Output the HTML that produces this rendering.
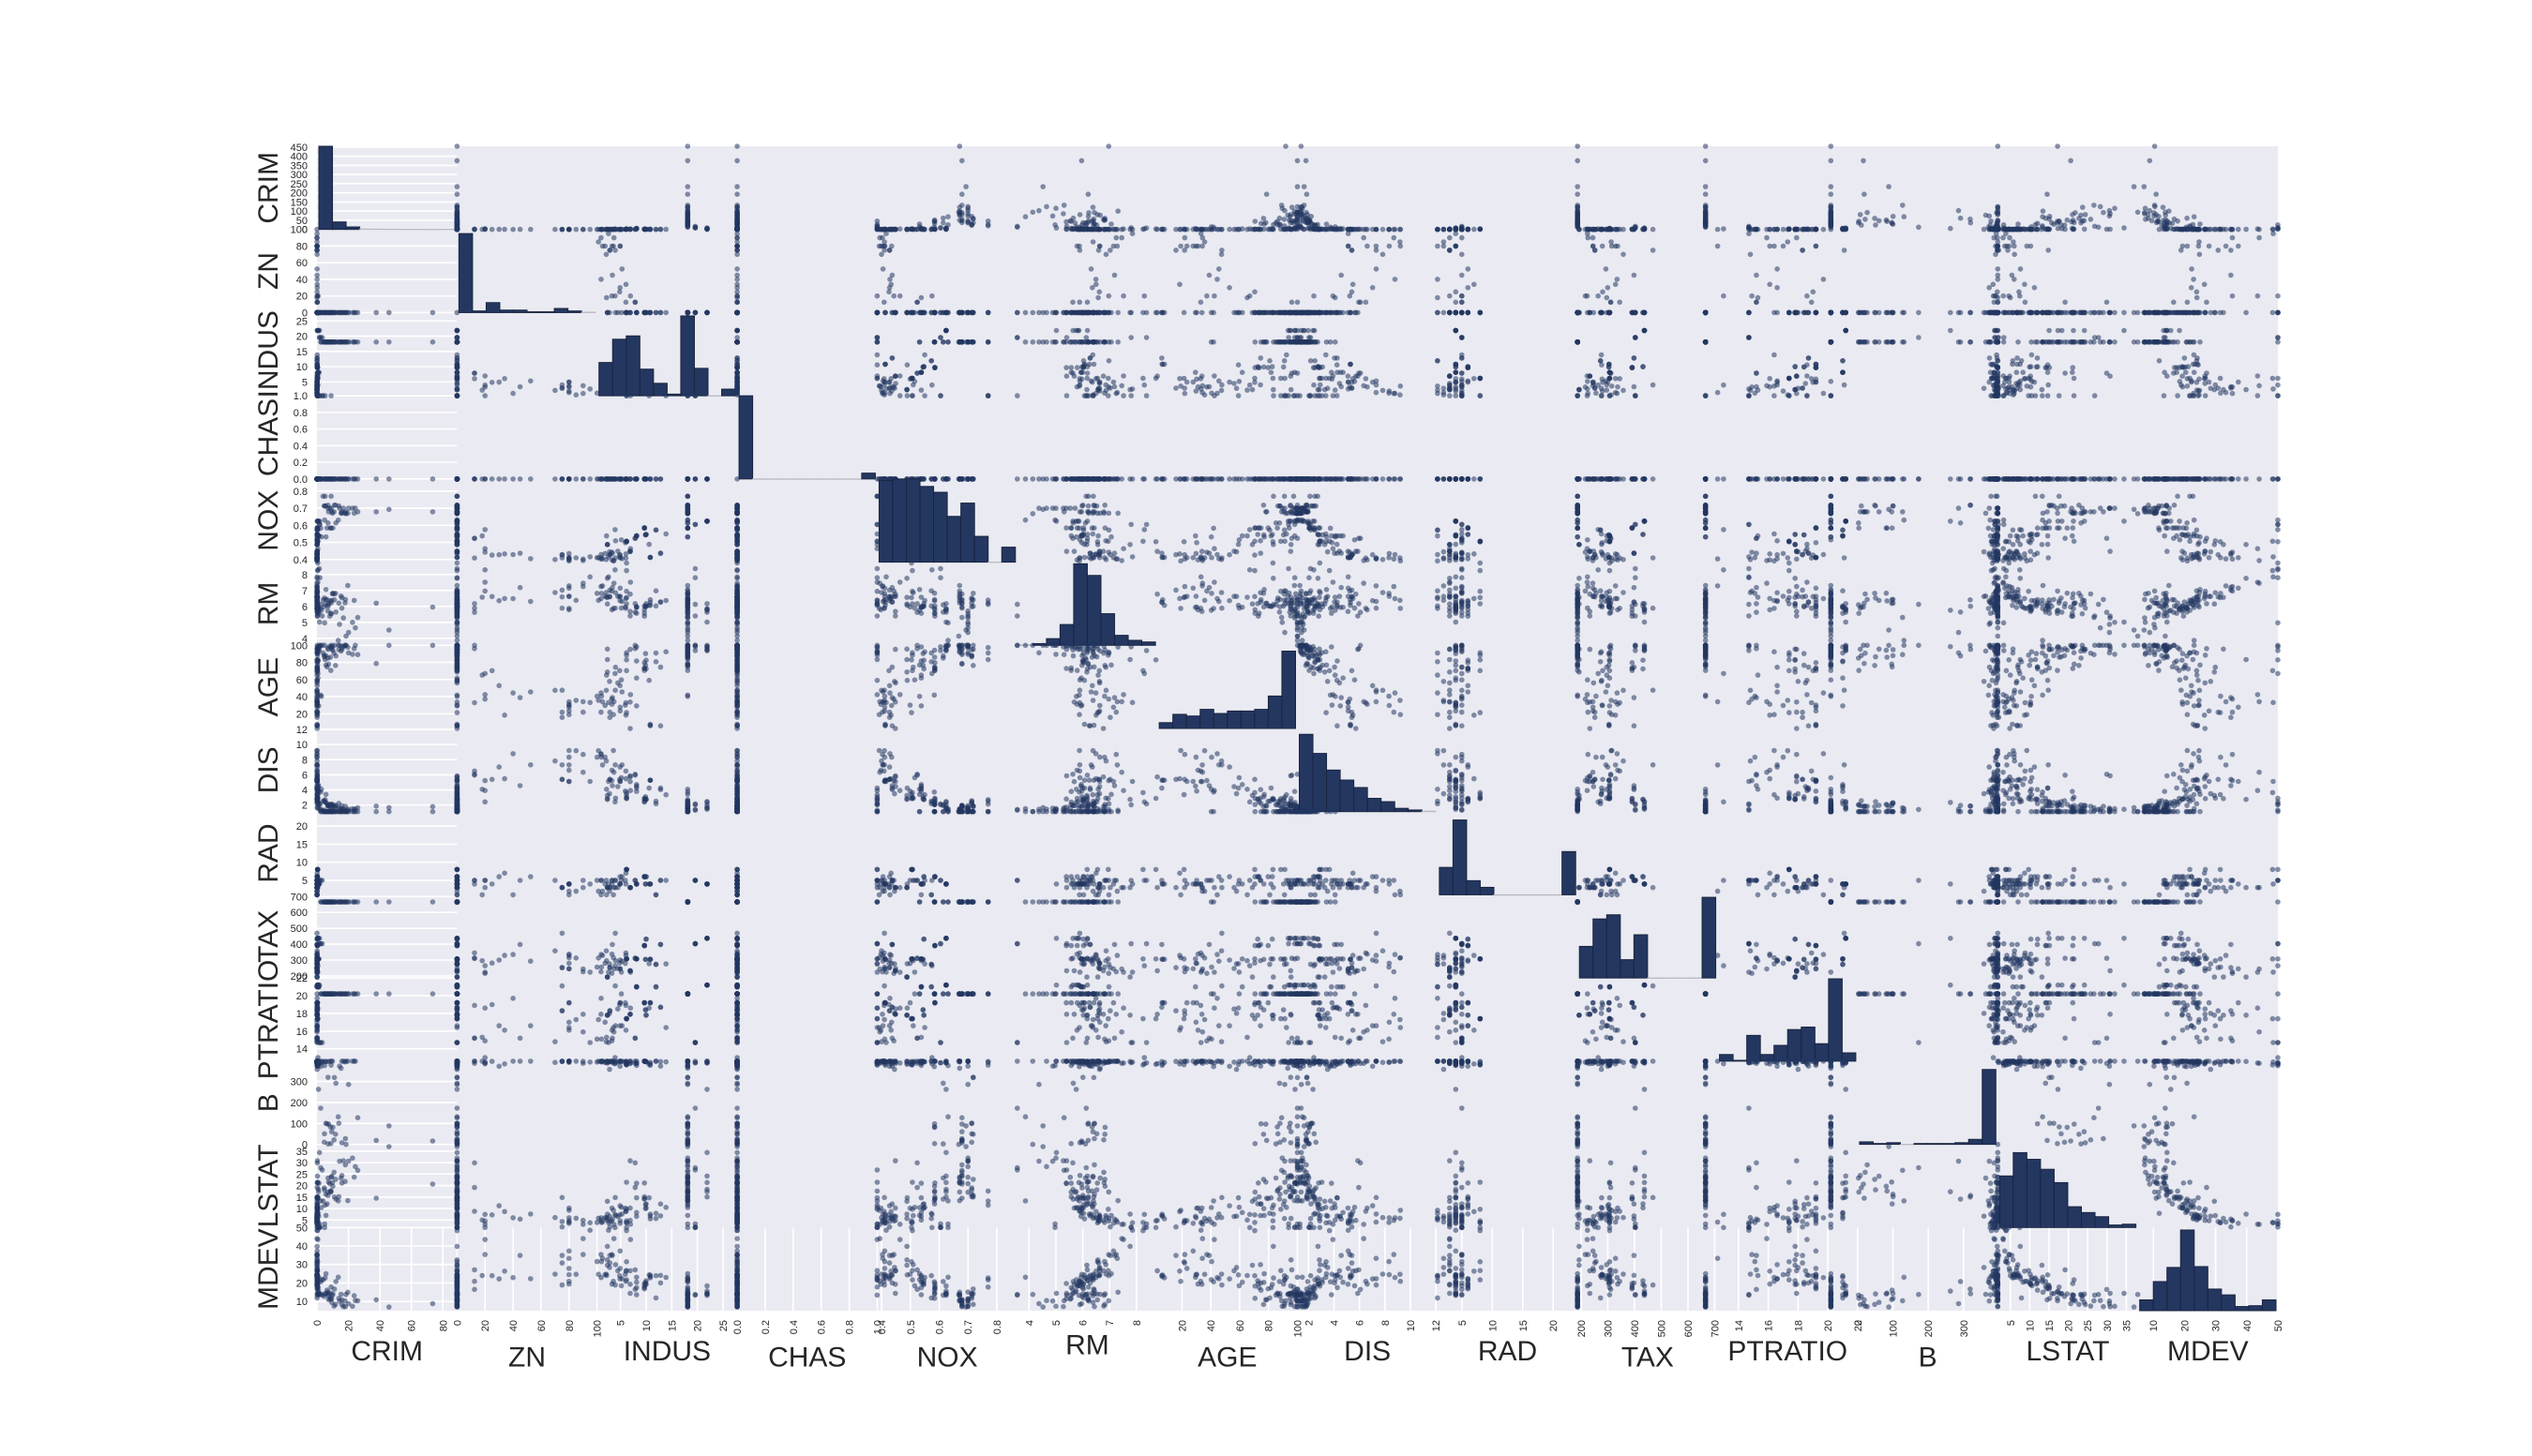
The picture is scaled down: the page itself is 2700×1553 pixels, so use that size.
<!DOCTYPE html>
<html><head><meta charset="utf-8"><title>Boston scatter matrix</title>
<style>
html,body{margin:0;padding:0;background:#fff;}
svg{display:block;font-family:"Liberation Sans",sans-serif;}
</style></head>
<body>
<svg id="chart" width="2700" height="1553" viewBox="0 0 2700 1553" xmlns="http://www.w3.org/2000/svg">
<rect x="0" y="0" width="2700" height="1553" fill="#ffffff"/>
<g id="cells"></g>
<g id="labels"></g>
</svg>
<script>
const varNames = ["CRIM","ZN","INDUS","CHAS","NOX","RM","AGE","DIS","RAD","TAX","PTRATIO","B","LSTAT","MDEV"];
const varMin = [0,0,0.46,0,0.385,3.56,2.9,1.13,1,187,12.6,0.32,1.73,5];
const varMax = [89,100,27.74,1,0.871,8.78,100,12.13,24,711,22,396.9,37.97,50];
const histCrim = [1.0,0.09,0.03,0.005,0.004,0.003,0.002,0.002,0.001,0.002];
const histZn = [0.95,0.02,0.12,0.03,0.03,0.01,0.01,0.05,0.02,0.005];
const histIndus = [0.40,0.68,0.72,0.32,0.15,0.02,0.96,0.33,0,0.08];
const histChas = [1.0,0,0,0,0,0,0,0,0,0.07];
const histNox = [0.98,1.0,1.0,0.91,0.84,0.55,0.71,0.31,0,0.18];
const histRm = [0.005,0.02,0.08,0.25,0.98,0.84,0.38,0.12,0.06,0.04];
const histAge = [0.07,0.17,0.15,0.23,0.18,0.21,0.21,0.23,0.39,0.93];
const histDis = [0.93,0.70,0.50,0.38,0.29,0.16,0.12,0.04,0.02,0.005];
const histRad = [0.33,0.90,0.17,0.09,0,0,0,0,0,0.52];
const histTax = [0.38,0.71,0.76,0.22,0.52,0,0,0,0,0.97];
const histPtratio = [0.08,0.01,0.31,0.08,0.19,0.38,0.41,0.21,0.99,0.10];
const histB = [0.03,0.01,0.02,0,0.01,0.01,0.01,0.02,0.06,0.90];
const histLstat = [0.62,0.90,0.82,0.70,0.54,0.25,0.18,0.13,0.03,0.04];
const histMdev = [0.13,0.35,0.52,0.97,0.53,0.26,0.19,0.05,0.06,0.13];
const hists = [histCrim,histZn,histIndus,histChas,histNox,histRm,histAge,histDis,histRad,histTax,histPtratio,histB,histLstat,histMdev];
const crimCountTicks = [0,50,100,150,200,250,300,350,400,450];
const crimCountMax = 455;
const tickVals = [
 [0,20,40,60,80],[0,20,40,60,80,100],[0,5,10,15,20,25],[0,0.2,0.4,0.6,0.8,1.0],
 [0.4,0.5,0.6,0.7,0.8],[4,5,6,7,8],[20,40,60,80,100],[2,4,6,8,10,12],
 [5,10,15,20],[200,300,400,500,600,700],[14,16,18,20,22],[0,100,200,300,400],
 [5,10,15,20,25,30,35],[10,20,30,40,50]];
const tickText = [
 ["0","20","40","60","80"],["0","20","40","60","80","100"],["0","5","10","15","20","25"],["0.0","0.2","0.4","0.6","0.8","1.0"],
 ["0.4","0.5","0.6","0.7","0.8"],["4","5","6","7","8"],["20","40","60","80","100"],["2","4","6","8","10","12"],
 ["5","10","15","20"],["200","300","400","500","600","700"],["14","16","18","20","22"],["0","100","200","300","400"],
 ["5","10","15","20","25","30","35"],["10","20","30","40","50"]];
const rows = `0.00632,18,2.31,0,0.538,6.575,65.2,4.09,1,296,15.3,396.9,4.98,24.0
0.0136,75,4.0,0,0.41,5.888,47.6,7.32,3,469,21.1,396.9,14.8,18.9
0.01311,90,1.22,0,0.403,7.249,21.9,8.70,5,226,17.9,395.93,4.81,35.4
0.02055,85,0.74,0,0.41,6.383,35.7,9.19,2,313,17.3,396.9,5.77,24.7
0.01432,100,1.32,0,0.411,6.816,40.5,8.32,5,256,15.1,392.9,3.95,31.6
0.03548,80,3.64,0,0.392,5.876,19.1,9.22,1,315,16.4,395.18,9.25,20.9
0.01538,90,3.75,0,0.394,7.454,34.2,6.34,3,244,15.9,386.34,3.11,44.0
0.09164,0,10.81,0,0.413,6.065,7.8,5.29,4,305,19.2,390.91,5.52,22.8
0.05735,0,4.49,0,0.449,6.63,56.1,4.44,3,247,18.5,392.3,6.53,26.6
0.08826,0,10.81,0,0.413,6.417,6.6,5.29,4,305,19.2,383.73,6.72,24.2
0.04379,80,3.37,0,0.398,5.787,31.1,6.61,4,337,16.1,396.9,10.24,19.4
0.03705,20,3.33,0,0.4429,6.968,37.2,5.24,5,216,14.9,392.23,4.59,35.4
0.01501,80,2.01,0,0.435,6.635,29.7,8.34,4,280,17.0,390.94,5.99,24.5
0.04011,80,1.52,0,0.404,7.287,34.1,7.31,2,329,12.6,396.9,4.08,33.3
0.12816,12.5,6.07,0,0.409,5.885,33.0,6.50,4,345,18.9,396.9,8.79,20.9
0.06642,0,4.05,0,0.51,6.86,74.4,2.92,5,296,16.6,391.27,6.92,29.9
0.02763,75,2.95,0,0.428,6.595,21.8,5.40,3,252,18.3,395.63,4.32,30.8
0.03359,75,2.95,0,0.428,7.024,15.8,5.40,3,252,18.3,395.62,1.98,34.9
0.10153,0,12.83,0,0.437,6.279,74.5,4.05,5,398,18.7,373.66,11.97,20.0
0.14455,12.5,7.87,0,0.524,6.172,96.1,5.95,5,311,15.2,396.9,19.15,27.1
0.21124,12.5,7.87,0,0.524,5.631,100,6.08,5,311,15.2,386.63,29.93,16.5
0.62976,0,8.14,0,0.538,5.949,61.8,4.71,4,307,21.0,396.9,8.26,20.4
1.05393,0,8.14,0,0.538,5.935,29.3,4.50,4,307,21.0,386.85,6.58,23.1
0.7842,0,8.14,0,0.538,5.99,81.7,4.26,4,307,21.0,386.75,14.67,17.5
1.25179,0,8.14,0,0.538,5.57,98.1,3.80,4,307,21.0,376.57,21.02,13.6
0.17142,0,6.91,0,0.448,5.682,33.8,5.10,3,233,17.9,396.9,10.21,19.3
0.25387,0,6.91,0,0.448,5.399,95.3,5.87,3,233,17.9,396.9,30.81,14.4
0.19539,0,10.81,0,0.413,6.245,6.2,5.29,4,305,19.2,377.17,7.54,23.4
0.12744,0,6.91,0,0.448,6.77,2.9,5.72,3,233,17.9,385.41,4.84,26.6
0.2909,0,21.89,0,0.624,6.174,93.6,1.61,4,437,21.2,388.08,24.16,14.0
1.62864,0,21.89,0,0.624,5.019,100,1.44,4,437,21.2,396.9,34.41,14.4
3.32105,0,19.58,1,0.871,5.403,100,1.32,5,403,14.7,396.9,26.82,13.4
2.37934,0,19.58,0,0.871,6.13,100,1.42,5,403,14.7,172.91,27.8,13.8
1.83377,0,19.58,1,0.605,7.802,98.2,2.04,5,403,14.7,389.61,1.92,50.0
1.51902,0,19.58,1,0.605,8.375,93.9,2.16,5,403,14.7,388.45,3.32,50.0
0.40771,0,6.2,1,0.507,6.164,91.3,3.05,8,307,17.4,395.24,21.46,21.7
0.57834,20,3.97,0,0.575,8.297,67.0,2.42,5,264,13.0,384.54,7.44,50.0
0.52693,0,6.2,0,0.504,8.725,83.0,2.89,8,307,17.4,382.0,4.63,50.0
0.33147,0,6.2,0,0.507,8.247,70.4,3.65,8,307,17.4,378.95,3.95,48.3
0.35809,0,6.2,1,0.507,6.951,88.5,2.86,8,307,17.4,391.7,9.71,26.7
0.04417,70,2.24,0,0.4,6.871,47.4,7.83,5,358,14.8,390.86,6.07,24.8
0.06047,0,2.46,0,0.488,6.153,68.8,3.28,3,193,17.8,387.11,13.15,29.6
0.06588,0,2.46,0,0.488,7.765,83.3,2.74,3,193,17.8,395.56,7.56,39.8
0.22438,0,9.69,0,0.585,6.027,79.7,2.50,6,391,19.2,396.9,14.33,16.8
0.17783,0,9.69,0,0.585,5.569,73.5,2.40,6,391,19.2,395.77,15.1,17.5
0.26838,0,9.69,0,0.585,5.794,70.6,2.89,6,391,19.2,396.9,14.1,18.3
0.09266,34,6.09,0,0.433,6.495,18.4,5.49,7,329,16.1,383.61,8.67,26.4
0.04462,25,4.86,0,0.426,6.619,70.4,5.40,4,281,19.0,395.63,7.22,23.9
0.03615,80,4.95,0,0.411,6.63,23.4,5.12,4,245,19.2,396.9,4.7,27.9
0.11425,0,13.89,1,0.55,6.373,92.4,3.36,5,276,16.4,393.74,10.5,23.0
0.3494,0,9.9,0,0.544,5.972,76.7,3.10,4,304,18.4,396.24,9.97,20.3
0.2498,0,21.89,0,0.624,5.857,98.2,1.67,4,437,21.2,392.04,21.32,13.3
0.88125,0,21.89,0,0.624,5.637,94.7,1.98,4,437,21.2,396.9,18.34,14.3
0.44178,0,6.2,0,0.504,6.552,21.4,3.38,8,307,17.4,380.34,3.76,31.5
0.07886,80,4.95,0,0.411,7.148,27.7,5.12,4,245,19.2,396.9,3.56,37.3
8.98296,0,18.1,1,0.77,6.212,97.4,2.12,24,666,20.2,377.73,17.6,17.8
3.8497,0,18.1,1,0.77,6.395,91.0,2.51,24,666,20.2,391.34,13.27,21.7
5.20177,0,18.1,1,0.77,6.127,83.4,2.72,24,666,20.2,395.43,11.48,22.7
13.5222,0,18.1,0,0.631,3.863,100,1.51,24,666,20.2,131.42,13.33,23.1
4.89822,0,18.1,0,0.631,4.97,100,1.33,24,666,20.2,375.52,3.26,50.0
18.4982,0,18.1,0,0.668,4.138,100,1.14,24,666,20.2,396.9,37.97,13.8
19.6091,0,18.1,0,0.671,7.313,97.9,1.32,24,666,20.2,396.9,13.44,15.0
15.288,0,18.1,0,0.671,6.649,93.3,1.35,24,666,20.2,363.02,23.24,13.9
9.82349,0,18.1,0,0.671,6.794,98.8,1.36,24,666,20.2,396.9,21.24,13.3
23.6482,0,18.1,0,0.671,6.38,96.2,1.39,24,666,20.2,396.9,23.69,13.1
17.8667,0,18.1,0,0.671,6.223,100,1.39,24,666,20.2,393.74,21.78,10.2
88.9762,0,18.1,0,0.671,6.968,91.9,1.42,24,666,20.2,396.9,17.21,10.4
15.8744,0,18.1,0,0.671,6.545,99.1,1.52,24,666,20.2,396.9,21.08,10.9
9.18702,0,18.1,0,0.7,5.536,100,1.58,24,666,20.2,396.9,23.6,11.3
20.0849,0,18.1,0,0.7,4.368,91.2,1.44,24,666,20.2,285.83,30.63,8.8
16.8118,0,18.1,0,0.7,5.277,98.1,1.43,24,666,20.2,396.9,30.81,7.2
24.3938,0,18.1,0,0.7,4.652,100,1.47,24,666,20.2,396.9,28.28,10.5
22.5971,0,18.1,0,0.7,5.0,89.5,1.52,24,666,20.2,396.9,31.99,7.4
14.3337,0,18.1,0,0.7,4.88,100,1.59,24,666,20.2,372.92,30.62,10.2
8.15174,0,18.1,0,0.7,5.39,98.9,1.73,24,666,20.2,396.9,20.85,11.5
6.96215,0,18.1,0,0.7,5.713,97.0,1.93,24,666,20.2,394.43,17.11,15.1
45.7461,0,18.1,0,0.693,4.519,100,1.66,24,666,20.2,88.27,36.98,7.0
18.0846,0,18.1,0,0.679,6.434,100,1.83,24,666,20.2,27.25,29.05,7.2
10.8342,0,18.1,0,0.679,6.782,90.8,1.82,24,666,20.2,21.57,25.79,7.5
25.9406,0,18.1,0,0.679,5.304,89.1,1.65,24,666,20.2,127.36,26.64,10.4
73.5341,0,18.1,0,0.679,5.957,100,1.80,24,666,20.2,16.45,20.62,8.8
11.8123,0,18.1,0,0.718,6.824,76.5,1.79,24,666,20.2,48.45,22.74,8.4
11.0874,0,18.1,0,0.718,6.411,100,1.86,24,666,20.2,318.75,15.02,16.7
7.02259,0,18.1,0,0.718,6.006,95.3,1.88,24,666,20.2,319.98,15.7,14.2
12.0482,0,18.1,0,0.614,5.648,87.6,1.95,24,666,20.2,291.55,14.1,20.8
7.05042,0,18.1,0,0.614,6.103,85.1,2.02,24,666,20.2,2.52,23.29,13.4
8.79212,0,18.1,0,0.584,5.565,70.6,2.06,24,666,20.2,3.65,17.16,11.7
15.8603,0,18.1,0,0.679,5.896,95.4,1.91,24,666,20.2,7.68,24.39,8.3
37.6619,0,18.1,0,0.679,6.202,78.7,1.86,24,666,20.2,18.82,14.52,10.9
7.36711,0,18.1,0,0.679,6.193,78.1,1.94,24,666,20.2,96.73,21.52,11.0
9.33889,0,18.1,0,0.679,6.38,95.6,1.97,24,666,20.2,60.72,24.08,9.5
8.49213,0,18.1,0,0.584,6.348,86.1,2.05,24,666,20.2,83.45,17.64,14.5
10.0623,0,18.1,0,0.584,6.833,94.3,2.09,24,666,20.2,81.33,19.69,14.1
6.44405,0,18.1,0,0.584,6.425,74.8,2.20,24,666,20.2,97.95,12.03,16.1
5.58107,0,18.1,0,0.713,6.436,87.9,2.32,24,666,20.2,100.19,16.22,14.3
13.9134,0,18.1,0,0.713,6.208,95.0,2.22,24,666,20.2,100.63,15.17,11.7
4.75237,0,18.1,0,0.713,6.525,86.5,2.44,24,666,20.2,50.92,18.13,14.1
4.66883,0,18.1,0,0.713,5.976,87.9,2.58,24,666,20.2,10.48,19.01,12.7
5.73116,0,18.1,0,0.532,7.061,77.0,3.41,24,666,20.2,395.28,7.01,25.0
2.81838,0,18.1,0,0.532,5.762,40.3,4.10,24,666,20.2,392.92,10.42,21.8
2.37857,0,18.1,0,0.583,5.871,41.9,3.72,24,666,20.2,370.73,13.34,20.6
0.06076,0,11.93,0,0.573,6.976,91.0,2.17,1,273,21.0,396.9,5.64,23.9
0.04741,0,11.93,0,0.573,6.03,80.8,2.51,1,273,21.0,396.9,7.88,11.9
0.17505,0,5.96,0,0.499,5.966,30.2,3.85,5,279,19.2,393.43,10.13,24.7
0.10008,0,2.46,0,0.488,6.563,95.6,2.85,3,193,17.8,396.9,5.68,32.5
0.0351,95,2.68,0,0.4161,7.853,33.2,5.12,4,224,14.7,392.78,3.81,48.5
0.2896,0,9.69,0,0.585,5.39,72.9,2.80,6,391,19.2,396.9,21.14,19.7
0.15098,0,10.01,0,0.547,6.021,82.6,2.75,6,432,17.8,394.51,10.3,19.2
0.13158,0,10.01,0,0.547,6.176,72.5,2.73,6,432,17.8,393.3,12.04,21.2
0.32982,0,21.89,0,0.624,5.822,95.4,2.47,4,437,21.2,388.69,15.03,18.4
0.97617,0,21.89,0,0.624,5.757,98.4,2.35,4,437,21.2,262.76,17.31,15.6
0.13587,0,10.59,1,0.489,6.064,59.1,4.24,4,277,18.6,381.32,14.66,24.4
0.0459,52.5,5.32,0,0.405,6.315,45.6,7.32,6,293,16.6,396.9,7.6,22.3
0.03041,0,5.19,0,0.515,5.895,59.6,5.62,5,224,20.2,394.81,10.56,18.5
0.06211,40,1.25,0,0.429,6.49,44.4,8.79,1,335,19.7,396.9,5.98,22.9
0.07896,0,12.83,0,0.437,6.273,6.0,4.25,5,398,18.7,394.92,6.78,24.1
0.12204,0,2.89,0,0.445,6.625,57.8,3.50,2,276,18.0,357.98,6.65,28.4
0.26169,0,9.9,0,0.544,6.023,90.4,2.83,4,304,18.4,396.3,11.72,19.4
0.53412,20,6.96,1,0.464,7.52,42.4,3.92,3,223,18.6,388.37,3.16,43.5
0.0837,45,3.44,0,0.437,7.185,38.9,4.57,5,398,15.2,396.9,5.39,34.9
0.1029,30,4.93,0,0.428,6.358,52.9,7.04,6,300,16.6,372.75,11.22,22.2`.split("\n").map(r=>r.split(",").map(Number));

const NS="http://www.w3.org/2000/svg";
const X0=338, Y0=156, W=2091, H=1242, N=14;
const CW=W/N, CH=H/N;
const BAR="#233761", PT="#233761", BG="#EAEAF2";
function mk(tag,attrs,parent){const e=document.createElementNS(NS,tag);for(const k in attrs)e.setAttribute(k,attrs[k]);parent.appendChild(e);return e;}
function xScale(col,v){return X0+col*CW+(v-varMin[col])/(varMax[col]-varMin[col])*CW;}
function yScale(row,v){return Y0+(row+1)*CH-(v-varMin[row])/(varMax[row]-varMin[row])*CH;}
const cells=document.getElementById("cells");
const labels=document.getElementById("labels");
const bg=mk("rect",{x:X0,y:Y0,width:W,height:H,fill:BG},cells);


// gridlines: first column horizontal, last row vertical
for(let r=0;r<N;r++){
  const vals = r===0?crimCountTicks:tickVals[r];
  vals.forEach(v=>{
    const y = r===0? Y0+CH-v/crimCountMax*CH : yScale(r,v);
    if(y<Y0+r*CH-0.5||y>Y0+(r+1)*CH+0.5) return;
    const l=mk("line",{x1:X0,x2:X0+CW,y1:y,y2:y,stroke:"#fff","stroke-width":1.6},cells);
    
    
    const t=mk("text",{x:X0-10,y:y+4,"text-anchor":"end","font-size":11,fill:"#262626"},labels);
    t.textContent = r===0? String(v) : tickText[r][tickVals[r].indexOf(v)];
    
    
  });
}
for(let c=0;c<N;c++){
  tickVals[c].forEach((v,i)=>{
    const x=xScale(c,v);
    if(x<X0+c*CW-0.5||x>X0+(c+1)*CW+0.5) return;
    const l=mk("line",{x1:x,x2:x,y1:Y0+13*CH,y2:Y0+H,stroke:"#fff","stroke-width":1.6},cells);
    
    
    const t=mk("text",{x:0,y:0,"text-anchor":"end","font-size":11,fill:"#262626",transform:`translate(${x+4},${Y0+H+10}) rotate(-90)`},labels);
    t.textContent=tickText[c][i];
    
    
  });
}
// cells
for(let r=0;r<N;r++){
  for(let c=0;c<N;c++){
    const g=mk("g",{},cells);
    if(r===c){
      
      
      const hs=hists[r], bw=(CW-4)/hs.length;
      hs.forEach((h,i)=>{
        const hh=Math.min(h,1)*CH;
        const b=mk("rect",{x:X0+c*CW+2+i*bw,y:Y0+(r+1)*CH-hh,width:bw,height:Math.max(hh,0.3),fill:BAR,stroke:hh>0.5?"#1a2540":"#b8b8c0","stroke-width":1},g);
        
        
      });
    } else {
      
      
      rows.forEach(d=>{
        const p=mk("circle",{cx:xScale(c,d[c]).toFixed(1),cy:yScale(r,d[r]).toFixed(1),r:2.8,fill:PT,"fill-opacity":0.55},g);
        
        
      });
    }
  }
}
// row & column labels
for(let i=0;i<N;i++){
  const cy=Y0+(i+0.5)*CH;
  const t=mk("text",{x:0,y:0,"text-anchor":"middle","font-size":30,fill:"#262626",transform:`translate(296,${cy}) rotate(-90)`},labels);
  t.textContent=varNames[i];
  
  
  const maxLen=Math.max(...tickText[i].map(s=>s.length));
  const cx=X0+(i+0.5)*CW;
  const t2=mk("text",{x:cx,y:1438+maxLen*6.5,"text-anchor":"middle","font-size":30,fill:"#262626"},labels);
  t2.textContent=varNames[i];
  
  
}
</script>
</body></html>
